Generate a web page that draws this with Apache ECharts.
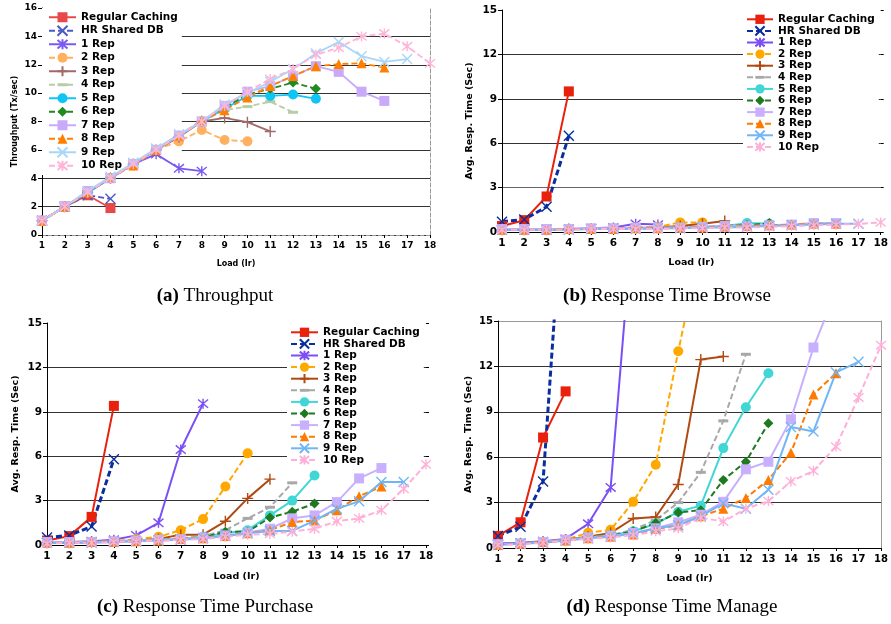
<!DOCTYPE html>
<html><head><meta charset="utf-8">
<script src="https://cdn.jsdelivr.net/npm/echarts@6/dist/echarts.min.js"></script>
<style>html,body{margin:0;padding:0;background:#fff}#c{width:891px;height:624px}</style>
</head><body><div id="c"></div>
<script>
const loads = ['1','2','3','4','5','6','7','8','9','10','11','12','13','14','15','16','17','18'];
const seriesNames = ['Regular Caching','HR Shared DB','1 Rep','2 Rep','3 Rep','4 Rep','5 Rep','6 Rep','7 Rep','8 Rep','9 Rep','10 Rep'];

// (a) Throughput (Tx/sec)
const rcA = [1.0, 2.0, 2.8, 1.9];
const hrA = [1.0, 2.0, 2.8, 2.55];
const r1A = [1.0, 2.0, 3.0, 4.0, 5.0, 5.7, 4.7, 4.5];
const r2A = [1.0, 2.0, 3.0, 4.0, 4.9, 6.0, 6.6, 7.4, 6.7, 6.6];
const r3A = [1.0, 2.0, 3.0, 4.0, 5.0, 6.0, 6.9, 8.0, 8.25, 7.95, 7.3];
const r4A = [1.0, 2.0, 3.0, 4.0, 5.0, 6.0, 7.0, 8.0, 8.8, 9.05, 9.4, 8.65];
const r5A = [1.0, 2.0, 3.0, 4.0, 5.0, 6.0, 7.0, 8.0, 8.9, 9.8, 9.8, 9.9, 9.6];
const r6A = [1.0, 2.0, 3.0, 4.0, 5.0, 6.0, 7.0, 8.0, 9.0, 9.9, 10.3, 10.75, 10.3];
const r7A = [1.0, 2.0, 3.1, 4.0, 5.0, 6.0, 7.0, 8.0, 9.1, 10.1, 10.5, 11.2, 11.9, 11.5, 10.1, 9.45];
const r8A = [1.0, 2.0, 3.0, 4.1, 4.9, 6.0, 7.0, 8.1, 8.8, 9.7, 10.5, 11.2, 11.9, 12.05, 12.1, 11.8];
const r9A = [1.0, 2.0, 3.1, 4.1, 5.1, 6.1, 7.1, 8.0, 9.2, 10.0, 10.8, 11.7, 12.8, 13.6, 12.6, 12.2, 12.4];
const r10A = [1.0, 2.0, 3.0, 4.0, 5.0, 6.0, 7.0, 8.0, 9.1, 10.1, 11.0, 11.7, 12.7, 13.2, 14.0, 14.2, 13.3, 12.1];

// (b) Response Time Browse (Sec)
const rcB = [0.4, 0.8, 2.4, 9.5];
const hrB = [0.7, 0.85, 1.7, 6.5];
const r1B = [0.2, 0.2, 0.2, 0.2, 0.25, 0.3, 0.55, 0.5];
const r2B = [0.15, 0.15, 0.2, 0.2, 0.2, 0.25, 0.3, 0.35, 0.65, 0.65];
const r3B = [0.15, 0.15, 0.15, 0.2, 0.2, 0.2, 0.25, 0.3, 0.4, 0.55, 0.75];
const r4B = [0.15, 0.15, 0.15, 0.2, 0.2, 0.2, 0.25, 0.25, 0.3, 0.35, 0.4, 0.5];
const r5B = [0.15, 0.15, 0.15, 0.2, 0.2, 0.2, 0.25, 0.25, 0.3, 0.35, 0.4, 0.6, 0.55];
const r6B = [0.15, 0.15, 0.15, 0.2, 0.2, 0.2, 0.2, 0.25, 0.3, 0.3, 0.4, 0.45, 0.6];
const r7B = [0.2, 0.2, 0.2, 0.2, 0.25, 0.25, 0.3, 0.3, 0.3, 0.35, 0.4, 0.4, 0.45, 0.5, 0.6, 0.6];
const r8B = [0.15, 0.15, 0.15, 0.2, 0.2, 0.2, 0.25, 0.25, 0.3, 0.3, 0.35, 0.4, 0.45, 0.5, 0.55, 0.55];
const r9B = [0.15, 0.15, 0.15, 0.15, 0.2, 0.2, 0.2, 0.25, 0.25, 0.3, 0.3, 0.35, 0.4, 0.45, 0.5, 0.55, 0.55];
const r10B = [0.15, 0.15, 0.15, 0.15, 0.2, 0.2, 0.2, 0.2, 0.25, 0.25, 0.3, 0.3, 0.35, 0.4, 0.45, 0.5, 0.55, 0.65];

// (c) Response Time Purchase (Sec)
const rcC = [0.3, 0.6, 1.9, 9.4];
const hrC = [0.5, 0.65, 1.25, 5.8];
const r1C = [0.2, 0.2, 0.25, 0.35, 0.65, 1.5, 6.45, 9.55];
const r2C = [0.15, 0.15, 0.2, 0.25, 0.4, 0.55, 1.0, 1.75, 3.95, 6.2];
const r3C = [0.15, 0.15, 0.2, 0.25, 0.3, 0.4, 0.7, 0.7, 1.6, 3.15, 4.45];
const r4C = [0.15, 0.15, 0.2, 0.2, 0.3, 0.35, 0.45, 0.6, 1.0, 1.8, 2.55, 4.2];
const r5C = [0.15, 0.15, 0.2, 0.2, 0.3, 0.35, 0.4, 0.55, 0.8, 1.0, 2.0, 3.0, 4.7];
const r6C = [0.15, 0.15, 0.2, 0.2, 0.25, 0.35, 0.4, 0.5, 0.9, 0.9, 1.85, 2.25, 2.8];
const r7C = [0.2, 0.2, 0.2, 0.25, 0.3, 0.35, 0.4, 0.5, 0.65, 0.85, 1.1, 1.8, 2.0, 2.9, 4.5, 5.2];
const r8C = [0.15, 0.15, 0.2, 0.2, 0.25, 0.3, 0.4, 0.45, 0.6, 0.8, 1.0, 1.55, 1.65, 2.35, 3.3, 3.95];
const r9C = [0.15, 0.15, 0.15, 0.2, 0.25, 0.3, 0.35, 0.45, 0.6, 0.8, 0.95, 0.95, 1.65, 2.45, 2.95, 4.25, 4.25];
const r10C = [0.1, 0.15, 0.15, 0.2, 0.25, 0.3, 0.35, 0.4, 0.55, 0.7, 0.75, 0.9, 1.1, 1.6, 1.8, 2.35, 3.8, 5.45];

// (d) Response Time Manage (Sec)
const rcD = [0.8, 1.7, 7.3, 10.35];
const hrD = [0.8, 1.4, 4.4, 26];
const r1D = [0.3, 0.35, 0.45, 0.6, 1.6, 4.0, 22];
const r2D = [0.25, 0.3, 0.4, 0.55, 1.0, 1.2, 3.05, 5.5, 13.0, 20];
const r3D = [0.25, 0.3, 0.4, 0.55, 0.75, 1.0, 1.95, 2.05, 4.2, 12.45, 12.65];
const r4D = [0.25, 0.3, 0.4, 0.5, 0.7, 0.85, 1.2, 1.85, 3.0, 5.0, 8.4, 12.8];
const r5D = [0.25, 0.3, 0.4, 0.5, 0.7, 0.85, 1.1, 1.6, 2.4, 2.8, 6.6, 9.3, 11.55];
const r6D = [0.25, 0.3, 0.4, 0.5, 0.7, 0.8, 1.1, 1.65, 2.35, 2.5, 4.5, 5.7, 8.25];
const r7D = [0.25, 0.3, 0.4, 0.55, 0.7, 0.8, 1.0, 1.3, 1.7, 2.2, 3.05, 5.2, 5.7, 8.5, 13.25, 17];
const r8D = [0.2, 0.3, 0.4, 0.5, 0.65, 0.75, 0.9, 1.25, 1.5, 2.1, 2.6, 3.3, 4.5, 6.3, 10.15, 11.55];
const r9D = [0.2, 0.3, 0.35, 0.5, 0.65, 0.75, 0.95, 1.3, 1.5, 2.1, 2.95, 2.6, 3.85, 8.0, 7.7, 11.6, 12.3];
const r10D = [0.2, 0.25, 0.35, 0.5, 0.6, 0.7, 0.85, 1.1, 1.3, 2.0, 1.75, 2.6, 3.1, 4.4, 5.1, 6.7, 9.95, 13.4];

const captions = [['(a)',' Throughput'],['(b)',' Response Time Browse'],['(c)',' Response Time Purchase'],['(d)',' Response Time Manage']];
const yNames = ['Throughput (Tx/sec)','Avg. Resp. Time (Sec)','Avg. Resp. Time (Sec)','Avg. Resp. Time (Sec)'];

const colorsA = ['#e84848','#4a5ac8','#7a5af0','#ffb060','#a06a6a','#b8cca8','#10c4f4','#228822','#c8aaf8','#ff8000','#a8d6f8','#ffb4d8'];
const colorsB = ['#e8200c','#0a2e9e','#7b4ff5','#ffa800','#b04a10','#a8a8a8','#40d6d6','#1e7a1e','#c8b0ff','#ff7a00','#70b6f6','#ffb0d8'];

const X = 'path://M0,0L10,10M10,0L0,10';
const STAR = 'path://M0,0L10,10M10,0L0,10M5,-1L5,11';
const PLUS = 'path://M5,0L5,10M0,5L10,5';
const DASH = 'path://M0,0L0,0M0,3.5L10,3.5L10,6.5L0,6.5ZM10,10L10,10';
const SYMS = ['rect', X, STAR, 'circle', PLUS, DASH, 'circle', 'diamond', 'rect', 'triangle', X, STAR];
const SIZES = [10, 10, 10, 10, 11, 10, 10, 10, 10, 10, 10, 10];
const STROKED = [false,true,true,false,true,false,false,false,false,false,true,true];
const DASHED = [false,true,false,true,false,true,false,true,false,true,false,true];

const panels = [
  {key:'a', data:[rcA,hrA,r1A,r2A,r3A,r4A,r5A,r6A,r7A,r8A,r9A,r10A], colors:colorsA, lw:1.8, hrw:1.8},
  {key:'b', data:[rcB,hrB,r1B,r2B,r3B,r4B,r5B,r6B,r7B,r8B,r9B,r10B], colors:colorsB, lw:2, hrw:3},
  {key:'c', data:[rcC,hrC,r1C,r2C,r3C,r4C,r5C,r6C,r7C,r8C,r9C,r10C], colors:colorsB, lw:2, hrw:3},
  {key:'d', data:[rcD,hrD,r1D,r2D,r3D,r4D,r5D,r6D,r7D,r8D,r9D,r10D], colors:colorsB, lw:2, hrw:3}
];

const grids = [
  {left:42, right:461, top:8, bottom:389},
  {left:502, right:10, top:10, bottom:392},
  {left:47, right:465, top:323, bottom:79},
  {left:498, right:9, top:321, bottom:76}
];

const FONT = 'DejaVu Sans';
const axFont = [9, 10.5, 10.5, 10];
const nameFont = [8, 9.5, 9.5, 9.5];
const yMax = [16, 15, 15, 15];
const yInt = [2, 3, 3, 3];
const yNameGap = [23, 27, 26, 24];
const xNameGap = [25, 26, 27, 26];

const xAxis = [], yAxis = [], series = [];
for (let i = 0; i < 4; i++) {
  xAxis.push({
    type:'category', gridIndex:i, data:loads, boundaryGap:false,
    axisLine:{lineStyle:{color:'#000', width:1}},
    axisTick:{show:true, length:3, lineStyle:{color:'#000'}},
    axisLabel:{interval:0, color:'#000', fontFamily:FONT, fontWeight:'bold', fontSize:axFont[i], margin:6},
    name:'Load (Ir)', nameLocation:'middle', nameGap:xNameGap[i],
    nameTextStyle:{color:'#000', fontFamily:FONT, fontWeight:'bold', fontSize:nameFont[i]}
  });
  const nLines = yMax[i] / yInt[i] + 1;
  const gcol = [];
  for (let k = 0; k < nLines; k++) gcol.push('#333');
  gcol[nLines - 1] = i === 3 ? '#999' : 'rgba(0,0,0,0)';
  if (i === 1) gcol[1] = '#666';
  yAxis.push({
    type:'value', gridIndex:i, min:0, max:yMax[i], interval:yInt[i],
    axisLine:{show:true, lineStyle:{color:'#000', width:1}},
    axisTick:{show:true, length:4, lineStyle:{color:'#000'}},
    axisLabel:{color:'#000', fontFamily:FONT, fontWeight:'bold', fontSize:axFont[i], margin:5},
    splitLine:{show:true, lineStyle:{color:gcol, width:1}},
    name:yNames[i], nameLocation:'middle', nameGap:yNameGap[i],
    nameTextStyle:{color:'#000', fontFamily:FONT, fontWeight:'bold', fontSize:nameFont[i]}
  });
}
// frame helpers (a: dashed top/right, b/c: right ticks, d: right border)
xAxis.push({type:'category', gridIndex:0, position:'top', data:loads, boundaryGap:false,
  axisLine:{lineStyle:{color:'#999', type:'dashed'}}, axisTick:{show:false}, axisLabel:{show:false}});
for (let i = 0; i < 4; i++) {
  yAxis.push({type:'value', gridIndex:i, position:'right', min:0, max:yMax[i], interval:yInt[i],
    axisLine:{show: i === 0 || i === 3, lineStyle:{color:'#999', type: i === 0 ? 'dashed' : 'solid'}},
    axisTick:{show: i === 1 || i === 2, length:3, lineStyle:{color:'#000'}},
    axisLabel:{show:false}, splitLine:{show:false}});
}

panels.forEach((p, i) => {
  p.data.forEach((vals, s) => {
    const c = p.colors[s];
    series.push({
      type:'line', name:p.key + ':' + seriesNames[s], xAxisIndex:i, yAxisIndex:i, z:3,
      data:vals, symbol:SYMS[s], symbolSize:SIZES[s], showAllSymbol:true,
      lineStyle:{color:c, width: s === 1 ? p.hrw : p.lw, type: DASHED[s] ? [6, 3] : 'solid'},
      itemStyle:{color: STROKED[s] ? 'rgba(0,0,0,0)' : c, borderColor:c, borderWidth: STROKED[s] ? 1.4 : 0},
      emphasis:{disabled:true}, clip:true, animation:false
    });
  });
});

function legendFor(key, left, top, itemWidth, itemHeight, lineHeight, gap, pad) {
  return {
    orient:'vertical', left:left, top:top, itemWidth:itemWidth, itemHeight:itemHeight, itemGap:gap,
    padding:pad, backgroundColor:'#fff', selectedMode:false, z:1,
    data: seriesNames.map(n => key + ':' + n),
    formatter: n => n.slice(2),
    textStyle:{color:'#000', fontFamily:FONT, fontWeight:'bold', fontSize:10.5, lineHeight:lineHeight}
  };
}

const legend = [
  legendFor('a', 42, 8, 27, 12.5, 12.5, 1, [3, 4, 3, 6]),
  legendFor('b', 743, 10, 26, 11.6, 11.6, 0, [3.5, 4, 4, 3]),
  legendFor('c', 287, 323, 27, 11.6, 11.6, 0, [3.5, 4, 4, 3])
];

const capPos = [[215, 296], [667, 296], [205, 607], [672, 607]];
const graphic = captions.map((c, i) => ({
  type:'text', x:capPos[i][0], y:capPos[i][1],
  style:{text:'{b|' + c[0] + '}{n|' + c[1] + '}', align:'center', verticalAlign:'middle',
    rich:{b:{fontFamily:'Liberation Serif', fontWeight:'bold', fontSize:19, fill:'#000'},
          n:{fontFamily:'Liberation Serif', fontSize:19, fill:'#000'}}}
}));

const chart = echarts.init(document.getElementById('c'), null, {renderer:'canvas'});
chart.setOption({
  animation:false, backgroundColor:'#fff',
  grid:grids, xAxis:xAxis, yAxis:yAxis, series:series, legend:legend, graphic:graphic
});
</script>
</body></html>
